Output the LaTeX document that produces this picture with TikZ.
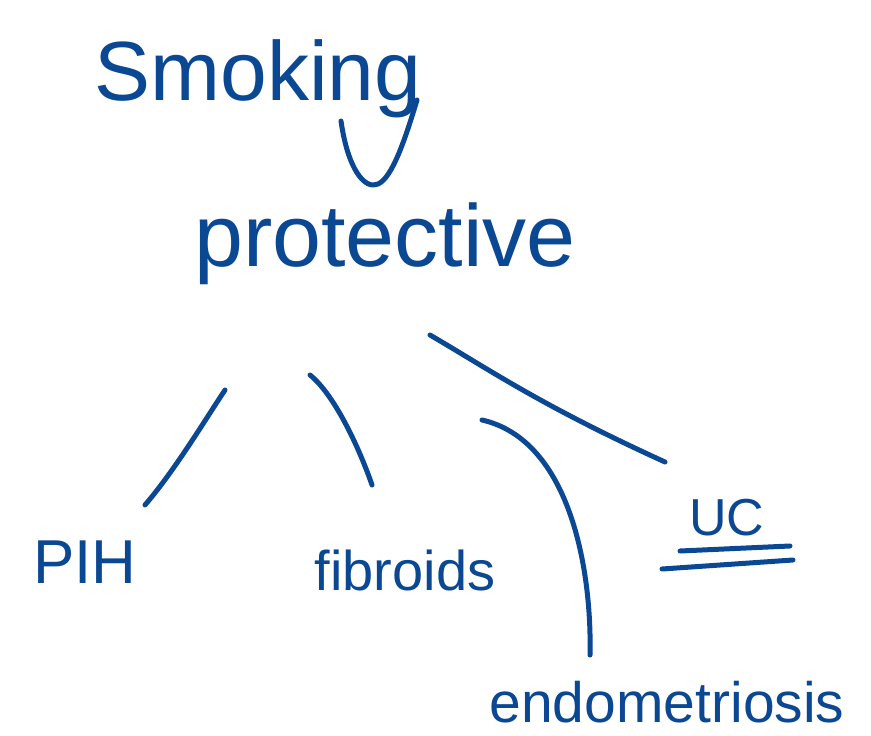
\documentclass[tikz,border=0pt]{standalone}
\usepackage{fontspec}
\setmainfont{Liberation Sans}
\definecolor{ink}{RGB}{10,72,148}
\tikzset{
  pen/.style={draw=ink, line width=5pt, line cap=round, line join=round},
  word/.style={text=ink, inner sep=0pt, anchor=base},
}
\begin{document}
\begin{tikzpicture}[x=1pt, y=-1pt]
\useasboundingbox (0,0) rectangle (871,736);
\fill[white] (0,0) rectangle (871,736);

% words
\node[word, font=\fontsize{84}{84}\selectfont] (smoking) at (258,100) {Smoking};
\node[word, font=\fontsize{88}{88}\selectfont] (prot) at (385,266) {protective};
\node[word, font=\fontsize{62}{62}\selectfont] (pih) at (85,583) {PIH};
\node[word, font=\fontsize{56}{56}\selectfont] (fib) at (405,590) {fibroids};
\node[word, font=\fontsize{57}{57}\selectfont] (endo) at (667,722) {endometriosis};
\node[word, font=\fontsize{52}{52}\selectfont] (uc) at (727,535) {UC};

% hook from Smoking down to protective
\coordinate (h1) at (341,121);
\coordinate (h2) at (417,100);
\draw[pen] (h1) .. controls (348,170) and (365,190) .. (378,184)
           .. controls (392,178) and (405,140) .. (h2);

% branches from protective
\coordinate (p1) at (225,390);
\coordinate (p2) at (310,375);
\coordinate (p3) at (482,420);
\coordinate (p4) at (430,335);
\coordinate (e1) at (145,505);
\coordinate (e2) at (372,485);
\coordinate (e3) at (590,655);
\coordinate (e4) at (665,462);
\draw[pen] (p1) .. controls (205,420) and (175,470) .. (e1);
\draw[pen] (p2) .. controls (335,395) and (360,450) .. (e2);
\draw[pen] (p3) .. controls (570,440) and (592,570) .. (e3);
\draw[pen] (p4) .. controls (490,370) and (540,405) .. (e4);

% double underline of UC
\coordinate (u1) at (680,551);
\coordinate (u2) at (790,546);
\coordinate (u3) at (662,569);
\coordinate (u4) at (793,560);
\draw[pen] (u1) -- (u2);
\draw[pen] (u3) -- (u4);
\end{tikzpicture}
\end{document}
